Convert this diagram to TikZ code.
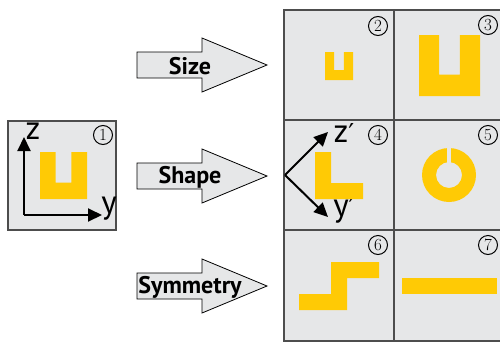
\documentclass[tikz,border=0pt]{standalone}
\usepackage{fontspec}
\setsansfont{PT Sans}
\newfontfamily\primefont{DejaVu Sans}
\usetikzlibrary{arrows.meta}
\definecolor{cellgray}{HTML}{E6E7E8}
\definecolor{gold}{HTML}{FFCA05}
\definecolor{rulegray}{HTML}{4D4D4D}
\begin{document}
\begin{tikzpicture}[x=1pt,y=-1pt,
  num/.style={draw,circle,line width=1pt,inner sep=0pt,minimum size=19pt,font=\fontsize{17}{17}\selectfont},
  ax/.style={line width=2pt,-{Triangle[length=14pt,width=13pt]}},
  axlbl/.style={font=\sffamily\fontsize{33}{33}\selectfont,inner sep=0pt},
  fat/.style={draw,fill=cellgray,line width=.8pt},
  tag/.style={font=\sffamily\bfseries\fontsize{24}{24}\selectfont,inner sep=0pt},
  bar/.style={fill=gold},
  cup/.pic={\fill[bar] (0,0)--(.33,0)--(.33,.65)--(.67,.65)--(.67,0)--(1,0)--(1,1)--(0,1)--cycle;}]
\useasboundingbox (0,0) rectangle (500,343);
% start box and grid
\draw[fill=cellgray,draw=rulegray,line width=1.4pt] (8,121) rectangle (116,230);
\draw[fill=cellgray,draw=rulegray,line width=1.4pt] (284,10) rectangle (506,341) (394,10)--(394,341) (284,120)--(506,120) (284,230)--(506,230);
\foreach \n/\x/\y in {1/103/135, 2/378/26, 3/488/25, 4/378/135, 5/488/135, 6/378/245, 7/488/245}
  \node[num] (n\n) at (\x,\y) {\n};
% axes
\path (24,215) coordinate (o1) (24,137) coordinate (z1) (102,215) coordinate (y1)
  (285,175) coordinate (o4) (328,132) coordinate (z4) (328,217) coordinate (y4);
\foreach \o/\d in {o1/z1, o1/y1, o4/z4, o4/y4} \draw[ax] (\o) -- (\d);
\path (33,131) node[axlbl] (zlbl) {z} (109,209) node[axlbl] (ylbl) {y}
  (344,133) node[axlbl] (zplbl) {z{\primefont\fontsize{26}{26}\selectfont′}}
  (344,210) node[axlbl] (yplbl) {y{\primefont\fontsize{26}{26}\selectfont′}};
% pieces
\pic[scale=47] at (40,152) {cup};
\pic[scale=28] at (325,52) {cup};
\pic[scale=61] at (419,35) {cup};
\fill[bar] (315,152)--(331,152)--(331,183)--(363,183)--(363,199)--(315,199)--cycle;
\fill[bar,even odd rule] (449,175) circle (27) (449,175) circle (13);
\fill[cellgray] (447,146) rectangle (451,163);
\fill[bar] (331,262)--(379,262)--(379,278)--(347,278)--(347,310)--(299,310)--(299,294)--(331,294)--cycle;
\fill[bar] (402,278) rectangle (497,294);
% fat arrows
\foreach \y/\t in {65/Size, 176/Shape, 286/Symmetry} {
  \draw[fat] (137,\y-13)--(202,\y-13)--(202,\y-27)--(267,\y)--(202,\y+27)--(202,\y+13)--(137,\y+13)--cycle;
  \node[tag] (\t) at (190,\y+1) {\t};
}
\end{tikzpicture}
\end{document}
